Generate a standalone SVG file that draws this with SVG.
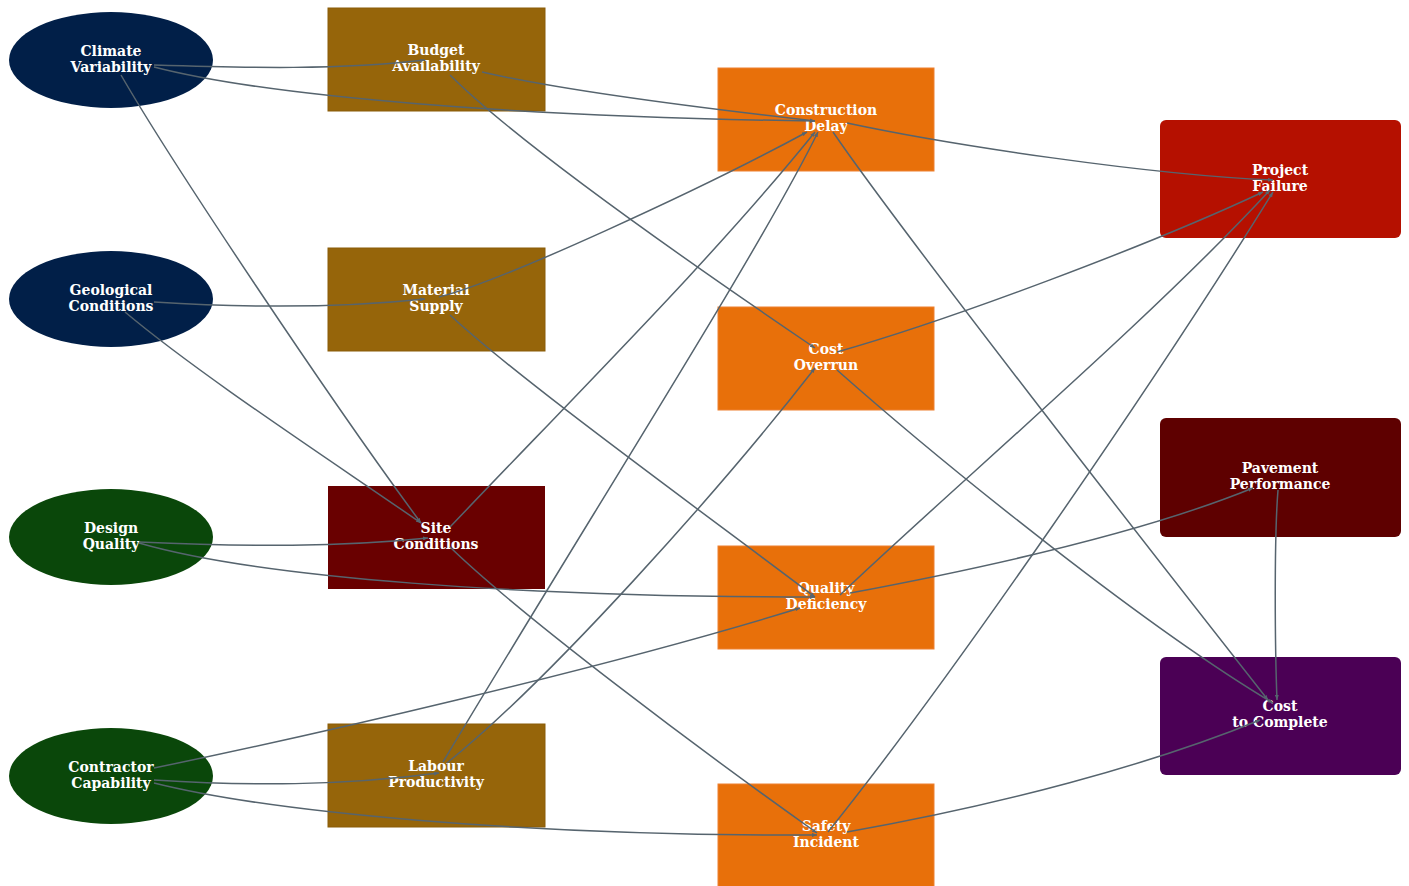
<svg xmlns="http://www.w3.org/2000/svg" width="1409" height="886" viewBox="0 0 1409 886">
<style>
.lbl{font-family:"DejaVu Serif","Liberation Serif",serif;font-weight:bold;font-size:14px;fill:#ffffff;text-anchor:middle}
.e{fill:none;stroke:#56646e;stroke-width:1.5;marker-end:url(#arr)}
.navy{fill:#011f48}
.green{fill:#0a470a}
.brown{fill:#96650a;stroke:#8a5c08;stroke-width:1}
.maroon{fill:#690000}
.orange{fill:#e8700a;stroke:#ee8030;stroke-width:1}
.red{fill:#b51000}
.dmaroon{fill:#5e0000}
.purple{fill:#4b0055}
</style>
<defs>
<marker id="arr" markerUnits="userSpaceOnUse" markerWidth="5" markerHeight="4" refX="5" refY="2" orient="auto">
<path d="M0,0 L5,2 L0,4 z" fill="#56646e"/>
</marker>
</defs>
<rect width="1409" height="886" fill="#ffffff"/>
<g id="climate"><ellipse class="navy" cx="111" cy="60" rx="102" ry="48"/><text class="lbl" x="111" y="55.5">Climate</text><text class="lbl" x="111" y="71.5">Variability</text></g>
<g id="geological"><ellipse class="navy" cx="111" cy="299" rx="102" ry="48"/><text class="lbl" x="111" y="294.5">Geological</text><text class="lbl" x="111" y="310.5">Conditions</text></g>
<g id="design"><ellipse class="green" cx="111" cy="537" rx="102" ry="48"/><text class="lbl" x="111" y="532.5">Design</text><text class="lbl" x="111" y="548.5">Quality</text></g>
<g id="contractor"><ellipse class="green" cx="111" cy="776" rx="102" ry="48"/><text class="lbl" x="111" y="771.5">Contractor</text><text class="lbl" x="111" y="787.5">Capability</text></g>
<g id="budget"><rect class="brown" x="328" y="8" width="217" height="103"/><text class="lbl" x="436" y="55">Budget</text><text class="lbl" x="436" y="71">Availability</text></g>
<g id="material"><rect class="brown" x="328" y="248" width="217" height="103"/><text class="lbl" x="436" y="295">Material</text><text class="lbl" x="436" y="311">Supply</text></g>
<g id="site"><rect class="maroon" x="328" y="486" width="217" height="103"/><text class="lbl" x="436" y="533">Site</text><text class="lbl" x="436" y="549">Conditions</text></g>
<g id="labour"><rect class="brown" x="328" y="724" width="217" height="103"/><text class="lbl" x="436" y="771">Labour</text><text class="lbl" x="436" y="787">Productivity</text></g>
<g id="delay"><rect class="orange" x="718" y="68" width="216" height="103"/><text class="lbl" x="826" y="115">Construction</text><text class="lbl" x="826" y="131">Delay</text></g>
<g id="overrun"><rect class="orange" x="718" y="307" width="216" height="103"/><text class="lbl" x="826" y="354">Cost</text><text class="lbl" x="826" y="370">Overrun</text></g>
<g id="quality"><rect class="orange" x="718" y="546" width="216" height="103"/><text class="lbl" x="826" y="593">Quality</text><text class="lbl" x="826" y="609">Deficiency</text></g>
<g id="safety"><rect class="orange" x="718" y="784" width="216" height="103"/><text class="lbl" x="826" y="831">Safety</text><text class="lbl" x="826" y="847">Incident</text></g>
<g id="failure"><rect class="red" x="1160" y="120" width="241" height="118" rx="6"/><text class="lbl" x="1280" y="174.5">Project</text><text class="lbl" x="1280" y="190.5">Failure</text></g>
<g id="pavement"><rect class="dmaroon" x="1160" y="418" width="241" height="119" rx="6"/><text class="lbl" x="1280" y="473">Pavement</text><text class="lbl" x="1280" y="489">Performance</text></g>
<g id="complete"><rect class="purple" x="1160" y="657" width="241" height="118" rx="6"/><text class="lbl" x="1280" y="711">Cost</text><text class="lbl" x="1280" y="727">to Complete</text></g>
<g id="connectors">
<path class="e" d="M154,65 C250,68 340,70 425,60"/>
<path class="e" d="M154,67 C270,97 520,117 815,121"/>
<path class="e" d="M121,75 C170,160 330,400 421,523"/>
<path class="e" d="M482,72 C560,90 700,108 815,121"/>
<path class="e" d="M450,75 C520,145 700,270 815,348"/>
<path class="e" d="M154,302 C250,308 340,308 425,299"/>
<path class="e" d="M125,312 C200,375 330,460 421,523"/>
<path class="e" d="M139,542 C250,547 340,547 428,538"/>
<path class="e" d="M139,543 C260,578 520,597 815,597"/>
<path class="e" d="M154,768 C300,738 600,670 800,608"/>
<path class="e" d="M154,780 C250,786 340,786 439,773"/>
<path class="e" d="M154,783 C270,812 520,836 817,835"/>
<path class="e" d="M439,297 C500,282 700,190 807,132"/>
<path class="e" d="M450,315 C520,380 700,510 815,597"/>
<path class="e" d="M450,527 C600,370 720,250 815,132"/>
<path class="e" d="M450,547 C520,615 700,750 817,833"/>
<path class="e" d="M443,762 C600,500 760,250 818,132"/>
<path class="e" d="M447,763 C550,680 720,490 815,368"/>
<path class="e" d="M847,123 C950,145 1150,175 1273,180"/>
<path class="e" d="M833,132 C900,230 1150,550 1268,700"/>
<path class="e" d="M837,352 C950,320 1150,245 1263,192"/>
<path class="e" d="M837,370 C950,470 1150,630 1273,703"/>
<path class="e" d="M840,595 C950,490 1150,320 1270,190"/>
<path class="e" d="M850,593 C1000,565 1150,530 1253,488"/>
<path class="e" d="M828,832 C950,680 1150,390 1273,192"/>
<path class="e" d="M847,832 C1000,805 1150,765 1260,720"/>
<path class="e" d="M1278,490 C1274,540 1275,650 1277,700"/>
</g>
</svg>
